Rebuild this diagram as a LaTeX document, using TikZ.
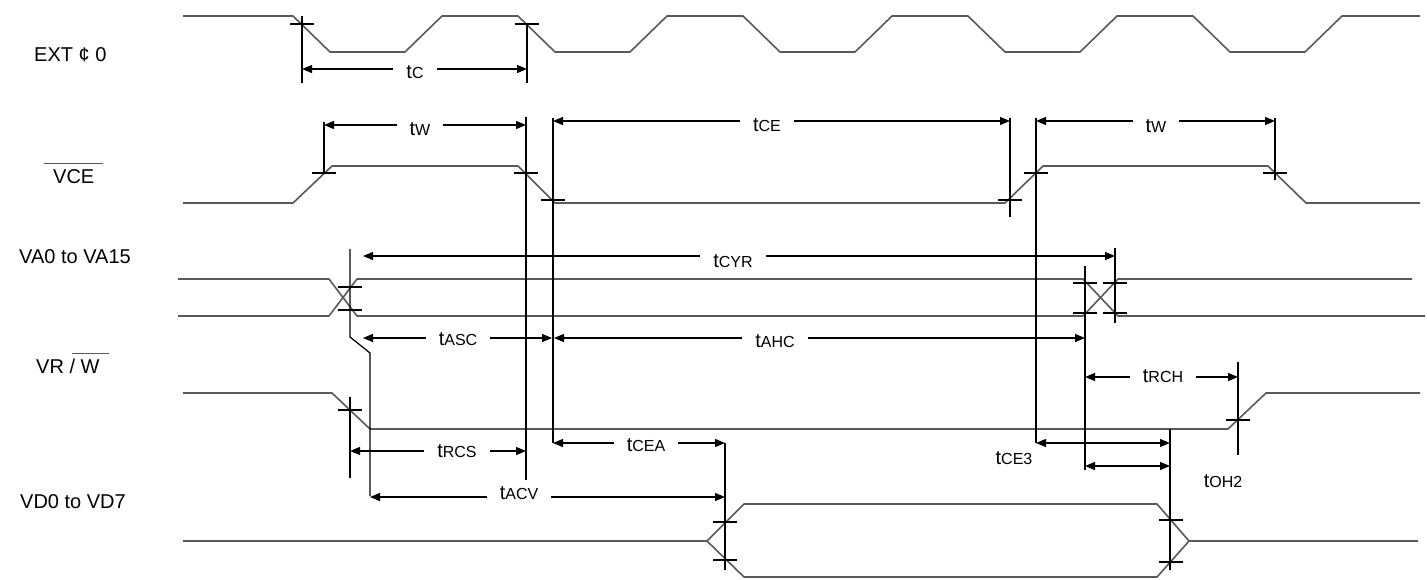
\documentclass[tikz,border=0pt]{standalone}
\usepackage{fontspec}
\setmainfont{Liberation Sans}
\usetikzlibrary{arrows.meta}
% t with its small capital suffix
\newcommand{\tsub}[1]{t{\fontsize{16}{16}\selectfont #1}}
% bar over a signal name
\newsavebox{\ovlbox}
\newcommand{\ovl}[1]{\sbox{\ovlbox}{#1}\rlap{\kern-9pt\textcolor{black!65}{\rule[\dimexpr\ht\ovlbox+5pt\relax]{\dimexpr\wd\ovlbox+18pt\relax}{1.4pt}}}\usebox{\ovlbox}}

\begin{document}
\begin{tikzpicture}[x=1pt,y=-1pt,% one unit = one pixel of the sheet, y runs down
					every node/.style={
						font=\fontsize{20}{22}\selectfont,
						inner sep=0pt
						},
					wave/.style={draw=black!65,line width=1.6pt,line join=round},
					dim/.style={draw=black,line width=1.2pt},
					dimarrow/.style={dim,{Triangle[length=10pt,width=8pt]}-{Triangle[length=10pt,width=8pt]}},
					sig/.style={anchor=base west},
					tlbl/.style={anchor=base,fill=white,inner xsep=13pt,inner ysep=1pt},
					tfree/.style={anchor=base}
					]
\useasboundingbox (0,0) rectangle (1427,579);

% signal names
\node[sig](EXT) at (34,61) {EXT ¢ 0};
\node[sig](VCE) at (53,183) {\ovl{VCE}};
\node[sig](VA) at (19,263) {VA0 to VA15};
\node[sig](VRW) at (36,373) {VR / \ovl{W}};
\node[sig](VD) at (20,508) {VD0 to VD7};

% waveforms
\draw[wave] (183,16) foreach \k in {0,...,4} {
	-- (293+225*\k,16) -- (330+225*\k,52) -- (405+225*\k,52) -- (442+225*\k,16) } -- (1420,16);
\draw[wave] (183,203) -- (293,203) -- (332,166) -- (518,166) -- (555,203) -- (1005,203)
	-- (1043,166) -- (1268,166) -- (1306,203) -- (1420,203);
\draw[wave] (178,279) -- (329,279) -- (357,316) -- (1083,316) -- (1118,279) -- (1412,279);
\draw[wave] (178,316) -- (329,316) -- (357,279) -- (1083,279) -- (1118,316) -- (1425,316);
\draw[wave] (183,393) -- (332,393) -- (370,429) -- (1228,429) -- (1266,393) -- (1420,393);
\draw[wave] (183,541) -- (707,541) -- (744,504) -- (1157,504) -- (1189,541) -- (1418,541);
\draw[wave] (707,541) -- (744,577) -- (1157,577) -- (1189,541);

% extension lines
\foreach \x/\ya/\yb in {302/16/83, 527/24/83, 324/122/173, 526/117/480, 553/118/443,
	1010/118/217, 1036/118/443, 1275/118/180, 1115/248/323, 1085/266/470,
	350/397/478, 1238/362/455, 725/443/570, 1170/429/570}
	\draw[dim] (\x,\ya) -- (\x,\yb);
\draw[dim] (350,249) -- (350,337) -- (370,353) -- (370,496);

% crossing marks
\foreach \x/\y in {302/24, 527/24, 324/173, 526/173, 553/200, 1010/200, 1036/173, 1275/173,
	350/287, 350/310, 1085/283, 1085/313, 1115/283, 1115/313, 350/410, 1238/420,
	725/522, 725/560, 1171/520, 1171/562}
	\draw[dim] (\x-12,\y) -- (\x+12,\y);

% timing arrows
\draw[dimarrow] (302,69) -- (527,69);
\draw[dimarrow] (324,125) -- (526,125);
\draw[dimarrow] (553,121) -- (1010,121);
\draw[dimarrow] (1036,121) -- (1275,121);
\draw[dimarrow] (363,256) -- (1115,256);
\draw[dimarrow] (363,338) -- (552,338);
\draw[dimarrow] (554,338) -- (1085,338);
\draw[dimarrow] (1085,377) -- (1238,377);
\draw[dimarrow] (350,451) -- (526,451);
\draw[dimarrow] (553,443) -- (725,443);
\draw[dimarrow] (370,497) -- (725,497);
\draw[dimarrow] (1036,443) -- (1170,443);
\draw[dimarrow] (1085,466) -- (1170,466);

% timing names
\node[tlbl](tC) at (415,78) {\tsub{C}};
\node[tlbl](tW) at (420,135) {\tsub{W}};
\node[tlbl](tCE) at (767,131) {\tsub{CE}};
\node[tlbl](tWb) at (1156,132) {\tsub{W}};
\node[tlbl](tCYR) at (733,267) {\tsub{CYR}};
\node[tlbl](tASC) at (458,345) {\tsub{ASC}};
\node[tlbl](tAHC) at (775,347) {\tsub{AHC}};
\node[tlbl](tRCH) at (1163,382) {\tsub{RCH}};
\node[tlbl](tRCS) at (457,457) {\tsub{RCS}};
\node[tlbl](tCEA) at (646,451) {\tsub{CEA}};
\node[tlbl](tACV) at (519,499) {\tsub{ACV}};
\node[tfree](tCEt) at (1014,464) {\tsub{CE3}};
\node[tfree](tOHt) at (1223,487) {\tsub{OH2}};
\end{tikzpicture}
\end{document}
